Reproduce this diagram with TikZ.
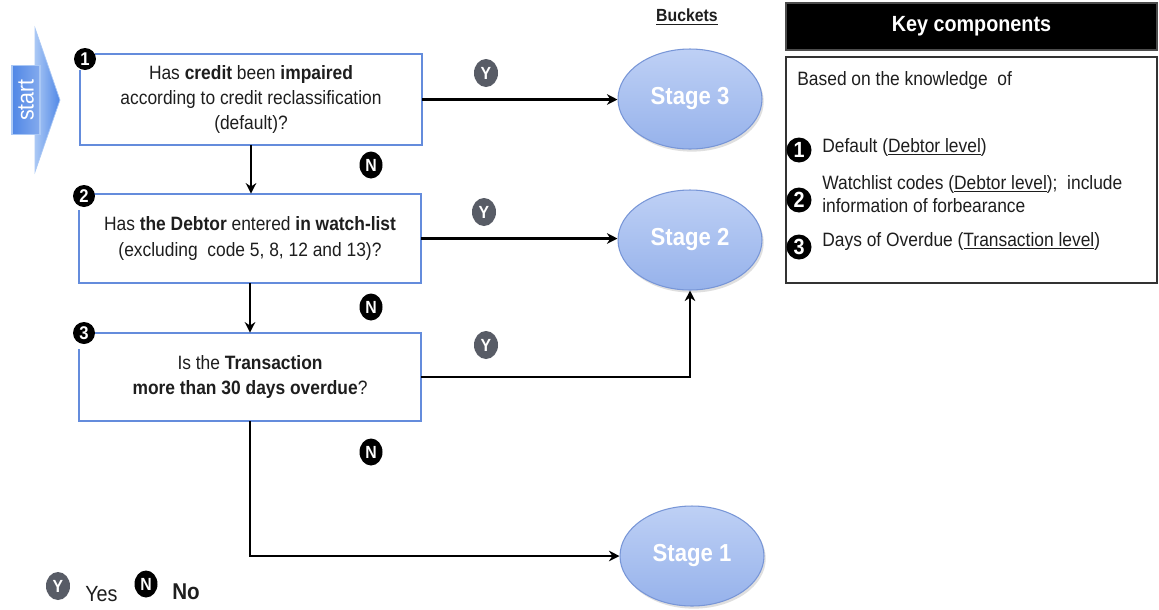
\documentclass[tikz,border=0pt]{standalone}
\usepackage{fontspec}
\setmainfont{Liberation Sans}[FakeStretch=0.9]
\usetikzlibrary{arrows.meta,shapes.geometric,shadows}
\definecolor{boxblue}{RGB}{100,140,220}
\definecolor{stagefill}{RGB}{150,178,235}
\definecolor{stagetop}{RGB}{190,208,245}
\definecolor{stageedge}{RGB}{120,150,215}
\definecolor{ygray}{RGB}{88,92,102}
\definecolor{txt}{RGB}{30,30,30}
\definecolor{startblue}{RGB}{80,135,230}
\definecolor{startlight}{RGB}{170,200,245}
\tikzset{
  qbox/.style={draw=none, fill=white, minimum width=6.84cm, minimum height=1.8cm,
    align=center, text=txt, font=\fontsize{11}{14.5}\selectfont, inner sep=0pt},
  boxline/.style={draw=boxblue, line width=1.2pt},
  numdot/.style={circle, fill=black, text=white, inner sep=0pt, minimum size=0.44cm,
    font=\bfseries\fontsize{10.5}{10.5}\selectfont},
  bignum/.style={circle, fill=black, text=white, inner sep=0pt, minimum size=0.5cm,
    font=\bfseries\fontsize{12.5}{12.5}\selectfont},
  ylab/.style={ellipse, fill=ygray, text=white, inner sep=0pt, minimum width=0.48cm,
    minimum height=0.56cm, font=\bfseries\fontsize{10}{10}\selectfont},
  nlab/.style={ellipse, fill=black, text=white, inner sep=0pt, minimum width=0.46cm,
    minimum height=0.54cm, font=\bfseries\fontsize{10}{10}\selectfont},
  stage/.style={ellipse, draw=stageedge, line width=0.6pt, top color=stagetop,
    bottom color=stagefill, minimum width=2.88cm, minimum height=2.0cm,
    text=white, font=\bfseries\fontsize{14}{14}\selectfont,
    drop shadow={opacity=0.25, shadow xshift=1pt, shadow yshift=-1.5pt}},
  arr/.style={draw=black, line width=1.3pt, -{Stealth[length=6pt,width=6pt]}},
  keytxt/.style={anchor=west, inner sep=0pt, align=left, text=txt,
    font=\fontsize{11}{13.5}\selectfont},
}
\begin{document}
\begin{tikzpicture}[x=0.02cm, y=-0.02cm]
\useasboundingbox (0,0) rectangle (1159,609);
\fill[white] (0,0) rectangle (1159,609);

% start arrow
\shade[left color=startlight, right color=startblue, draw=startlight, line width=0.4pt]
  (35,28) -- (60,100) -- (35,172) -- cycle;
\node[draw=startlight, line width=0.8pt, left color=startblue, right color=startblue!70!white,
  minimum width=0.56cm, minimum height=1.38cm, inner sep=0pt] (start) at (26,100) {};
\node[rotate=90, text=white, font=\fontsize{13.5}{13.5}\selectfont] at (start) {start};

% question boxes
\node[qbox] (b1) at (251,99.5) {Has \textbf{credit} been \textbf{impaired}\\according to credit reclassification\\(default)?};
\node[qbox, minimum height=1.78cm] (b2) at (250,238.5) {Has \textbf{the Debtor} entered \textbf{in watch-list}\\(excluding\ \ code 5, 8, 12 and 13)?};
\node[qbox, minimum height=1.76cm] (b3) at (250,377) {Is the \textbf{Transaction}\\\textbf{more than 30 days overdue}?};
\foreach \b in {b1,b2,b3}{
  \draw[boxline] ([xshift=0.3cm]\b.north west) -- (\b.north east) -- (\b.south east)
    -- (\b.south west) -- ([yshift=-0.32cm]\b.north west);
}
\node[numdot] (n1) at (85,59) {1};
\node[numdot] (n2) at (84,196) {2};
\node[numdot] (n3) at (84,333) {3};

% stages
\node[stage] (s3) at (690,99) {Stage 3};
\node[stage] (s2) at (690,240) {Stage 2};
\node[stage] (s1) at (692,556) {Stage 1};
\node[font=\bfseries\fontsize{10}{10}\selectfont, text=txt] (bk) at (687,17) {\underline{Buckets}};

% connectors
\draw[arr] (b1.south) -- (b1.south |- b2.north);
\draw[arr] (b2.south) -- (b2.south |- b3.north);
\draw[arr] (b3.south) |- (s1.west);
\draw[arr] (b1.east) -- (b1.east -| s3.west);
\draw[arr] (b2.east) -- (b2.east -| s2.west);
\draw[arr] (b3.east) -| (s2.south);

% Y / N labels
\node[ylab] (y1) at (486,73) {Y};
\node[ylab] (y2) at (484,212) {Y};
\node[ylab] (y3) at (486,345) {Y};
\node[nlab] (m1) at (371,165) {N};
\node[nlab] (m2) at (371,307) {N};
\node[nlab] (m3) at (371,452) {N};

% legend
\node[ylab] (ly) at (58,586) {Y};
\node[anchor=west, inner sep=0pt, text=txt, font=\fontsize{12.5}{12.5}\selectfont] (lyes) at (85,594) {Yes};
\node[nlab] (ln) at (146,584) {N};
\node[anchor=west, inner sep=0pt, text=txt, font=\bfseries\fontsize{13}{13}\selectfont] (lno) at (172,592) {No};

% key components
\node[fill=black, draw=black!70, line width=0.8pt, minimum width=7.42cm, minimum height=0.94cm,
  text=white, font=\bfseries\fontsize{12.5}{12.5}\selectfont, inner sep=0pt] (kh) at (971.5,26.5) {Key components};
\node[draw=black!80, line width=1.2pt, fill=white, minimum width=7.42cm, minimum height=4.52cm,
  inner sep=0pt] (kb) at (971.5,170) {};
\node[keytxt] (kt0) at (797,80) {Based on the knowledge\ \ of};
\node[bignum] (k1) at (799,150) {1};
\node[keytxt] (kt1) at (822,147) {Default (\underline{Debtor level})};
\node[bignum] (k2) at (799,200) {2};
\node[keytxt] (kt2) at (822,194) {Watchlist codes (\underline{Debtor level}); \ include\\information of forbearance};
\node[bignum] (k3) at (799,247) {3};
\node[keytxt] (kt3) at (822,241) {Days of Overdue (\underline{Transaction level})};
\end{tikzpicture}
\end{document}
